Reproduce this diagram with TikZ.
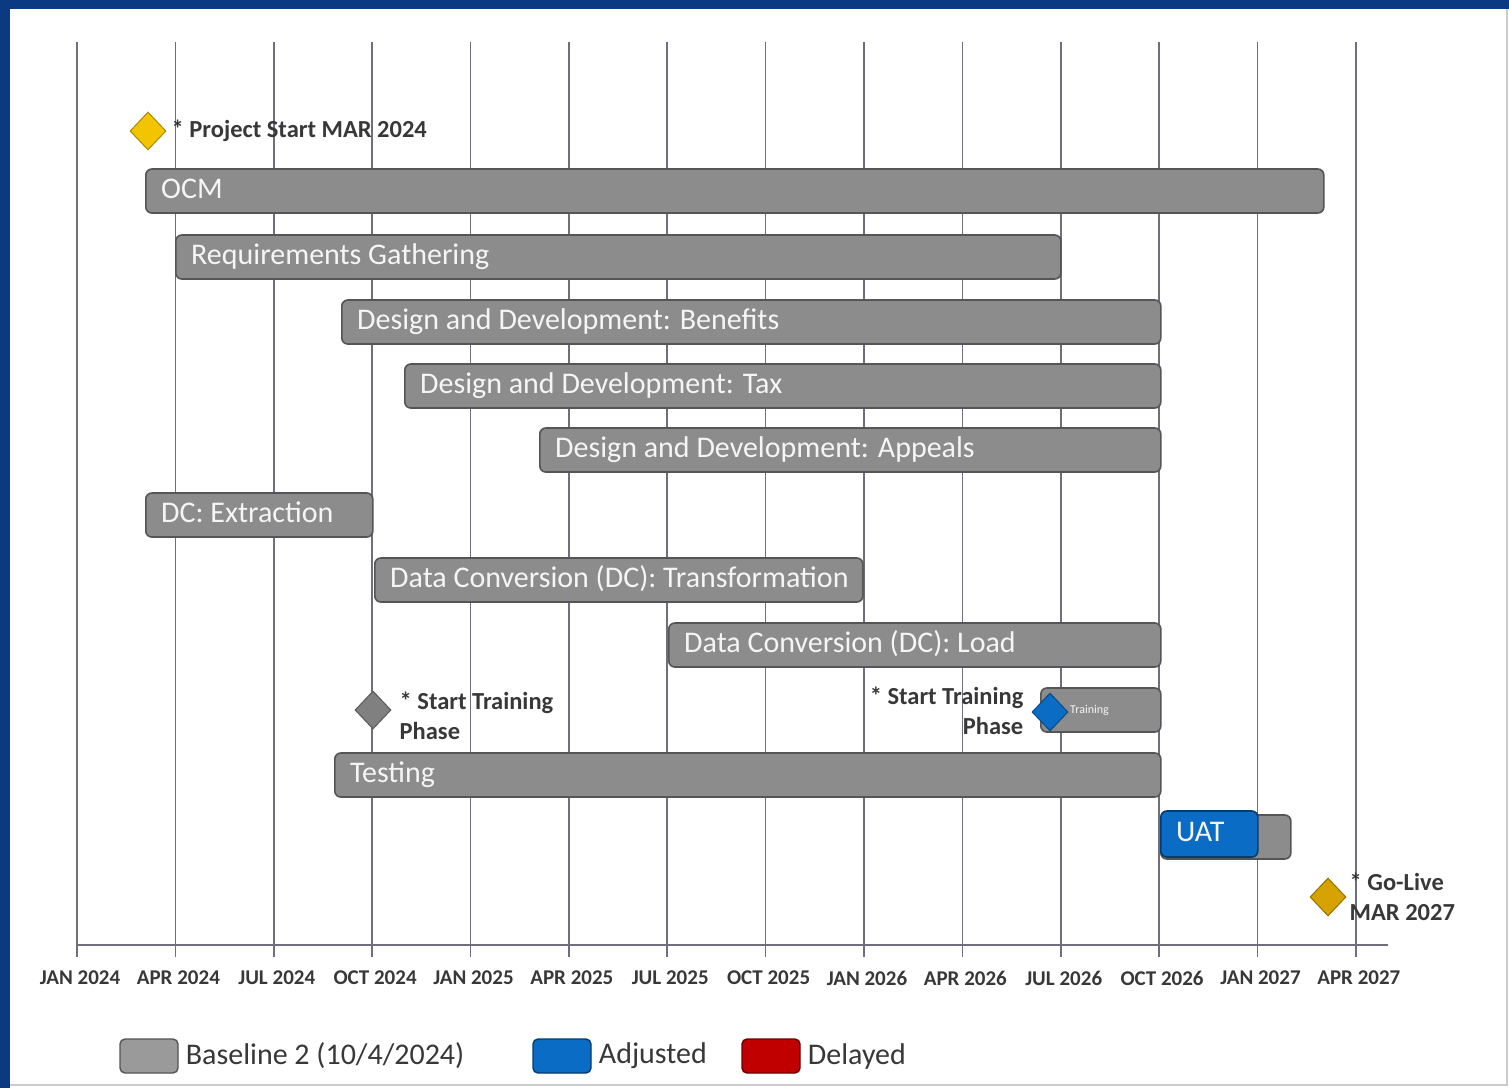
\documentclass[tikz,border=0pt]{standalone}
\usepackage{fontspec}
\setmainfont{Carlito}
\usetikzlibrary{shapes.geometric, positioning}
\definecolor{framenavy}{HTML}{0B3A82}
\definecolor{barfill}{HTML}{8C8C8C}
\definecolor{barline}{HTML}{555555}
\definecolor{gridgray}{HTML}{6E6E7C}
\definecolor{adjblue}{HTML}{0A6CC4}
\definecolor{delred}{HTML}{C00000}
\definecolor{basegray}{HTML}{9A9A9A}
\definecolor{startgold}{HTML}{F2C500}
\definecolor{livegold}{HTML}{D6A200}
\definecolor{labeltext}{HTML}{383838}

\begin{document}
\begin{tikzpicture}[x=1pt, y=-1pt,
    every node/.style={font=\fontsize{30}{33}\selectfont},
    bar/.style={rectangle, draw=barline, line width=1.6pt, fill=barfill, rounded corners=6pt,
      anchor=west, minimum height=44pt, inner sep=0pt},
    adjbar/.style={bar, fill=adjblue, draw=adjblue!55!black},
    barlabel/.style={anchor=west, xshift=16pt, inner sep=0pt, text height=20pt, text depth=6pt,
      text=white!92!gray},
    mile/.style={diamond, draw=#1!70!black, fill=#1, line width=1pt, inner sep=0pt,
      minimum width=36pt, minimum height=38pt},
    miletext/.style={font=\bfseries\fontsize{24.5}{30}\selectfont, text=labeltext, inner sep=0pt},
    legbox/.style={rectangle, draw=#1!55!black, fill=#1, line width=1.4pt, rounded corners=5pt,
      minimum width=58pt, minimum height=34pt},
    legtext/.style={text=labeltext, inner sep=0pt},
    axislabel/.style={font=\bfseries\fontsize{21}{23}\selectfont, text=labeltext},
    gridline/.style={gridgray, line width=1.6pt}
]
\useasboundingbox (0,0) rectangle (1509,1088);
% frame
\fill[white] (0,0) rectangle (1509,1088);
\fill[framenavy] (0,0) rectangle (1509,9);
\fill[framenavy] (0,0) rectangle (10,1088);
\draw[gray!40, line width=1.5pt] (1507,9) -- (1507,1085) -- (10,1085);

% quarter grid and axis
\foreach \lab [count=\i from 0] in {JAN 2024, APR 2024, JUL 2024, OCT 2024, JAN 2025, APR 2025,
    JUL 2025, OCT 2025, JAN 2026, APR 2026, JUL 2026, OCT 2026, JAN 2027, APR 2027} {
  \draw[gridline] (77+98.37*\i,42) -- (77+98.37*\i,957);
  \node[axislabel] (q\i) at (80+98.37*\i,978) {\lab};
}
\draw[gridline] (77,945) -- (1388,945);

% bars
\node[bar, minimum width=1178pt, label={[barlabel]west:OCM}] (ocm) at (145,191) {};
\node[bar, minimum width=885pt, label={[barlabel]west:Requirements Gathering}] (reqs) at (175,257) {};
\node[bar, minimum width=819pt, label={[barlabel]west:Design and Development: Benefits}] (dbenefits) at (341,322) {};
\node[bar, minimum width=756pt, label={[barlabel]west:Design and Development: Tax}] (dtax) at (404,386) {};
\node[bar, minimum width=621pt, label={[barlabel]west:Design and Development: Appeals}] (dappeals) at (539,450) {};
\node[bar, minimum width=227pt, label={[barlabel]west:DC: Extraction}] (dcext) at (145,515) {};
\node[bar, minimum width=488pt, label={[barlabel]west:Data Conversion (DC): Transformation}] (dctrans) at (374,580) {};
\node[bar, minimum width=492pt, label={[barlabel]west:Data Conversion (DC): Load}] (dcload) at (668,645) {};
\node[bar, minimum width=120pt, label={[barlabel, xshift=14pt, font=\fontsize{12}{14}\selectfont, text height=9pt, text depth=3pt]west:Training}] (training) at (1040,710) {};
\node[bar, minimum width=826pt, label={[barlabel]west:Testing}] (testing) at (334,775) {};
\node[bar, minimum width=130pt] (uatbase) at (1160,837) {};
\node[adjbar, minimum width=97pt, minimum height=46pt, label={[barlabel]west:UAT}] (uat) at (1160,834) {};

% milestones
\node[mile=startgold] (mstart) at (148,131) {};
\node[miletext, right=5pt of mstart] (mstarttxt) {* Project Start MAR 2024};
\node[mile=gray] (mtrain) at (373,710) {};
\node[miletext, align=left, right=8pt of mtrain, yshift=-6pt] (mtraintxt) {* Start Training\\Phase};
\node[mile=adjblue] (mtrainadj) at (1050,712) {};
\node[miletext, align=right, left=8pt of mtrainadj, yshift=1pt] (mtrainadjtxt) {* Start Training\\Phase};
\node[mile=livegold] (mlive) at (1328,897) {};
\node[miletext, align=left, right=3pt of mlive] (mlivetxt) {* Go-Live\\MAR 2027};

% legend
\node[legbox=basegray] (legbase) at (149,1056) {};
\node[legtext, right=7pt of legbase] (legbasetxt) {Baseline 2 (10/4/2024)};
\node[legbox=adjblue] (legadj) at (562,1056) {};
\node[legtext, right=7pt of legadj] (legadjtxt) {Adjusted};
\node[legbox=delred] (legdel) at (771,1056) {};
\node[legtext, right=7pt of legdel] (legdeltxt) {Delayed};
\end{tikzpicture}
\end{document}
